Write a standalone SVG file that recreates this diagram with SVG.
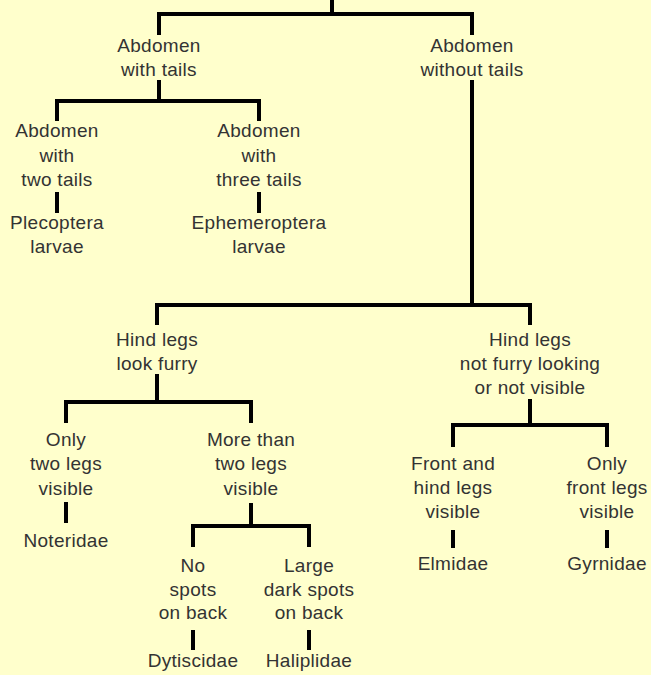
<svg xmlns="http://www.w3.org/2000/svg" width="651" height="675" viewBox="0 0 651 675">
<style>
.t{font-family:"Liberation Sans",Arial,sans-serif;font-size:19px;fill:#333;text-anchor:middle;letter-spacing:0.3px}
.c{stroke:#000;stroke-width:4;fill:none;stroke-linecap:butt;stroke-linejoin:miter}
</style>
<rect width="651" height="675" fill="#FFFFCC"/>
<g id="connectors" class="c">
<path d="M332,0V14"/>
<path d="M159,35V14H472V35"/>
<path d="M159,80V101"/>
<path d="M57,121V101H259V121"/>
<path d="M57,192V213"/>
<path d="M259,192V213"/>
<path d="M472,80V305"/>
<path d="M157,325V305H530V325"/>
<path d="M157,374V402"/>
<path d="M66,423V402H251V423"/>
<path d="M66,502V523"/>
<path d="M251,503V526"/>
<path d="M193,547V526H309V547"/>
<path d="M193,630V650"/>
<path d="M309,630V650"/>
<path d="M530,399V425"/>
<path d="M453,447V425H607V447"/>
<path d="M453,530V548"/>
<path d="M607,530V548"/>
</g>
<g id="n1"><text class="t" x="159" y="52">Abdomen</text><text class="t" x="159" y="76">with tails</text></g>
<g id="n2"><text class="t" x="472" y="52">Abdomen</text><text class="t" x="472" y="76">without tails</text></g>
<g id="n3"><text class="t" x="57" y="137">Abdomen</text><text class="t" x="57" y="162">with</text><text class="t" x="57" y="186">two tails</text></g>
<g id="n4"><text class="t" x="259" y="137">Abdomen</text><text class="t" x="259" y="162">with</text><text class="t" x="259" y="186">three tails</text></g>
<g id="n5"><text class="t" x="57" y="229">Plecoptera</text><text class="t" x="57" y="253">larvae</text></g>
<g id="n6"><text class="t" x="259" y="229">Ephemeroptera</text><text class="t" x="259" y="253">larvae</text></g>
<g id="n7"><text class="t" x="157" y="346">Hind legs</text><text class="t" x="157" y="370">look furry</text></g>
<g id="n8"><text class="t" x="530" y="346">Hind legs</text><text class="t" x="530" y="370">not furry looking</text><text class="t" x="530" y="394">or not visible</text></g>
<g id="n9"><text class="t" x="66" y="446">Only</text><text class="t" x="66" y="470">two legs</text><text class="t" x="66" y="495">visible</text></g>
<g id="n10"><text class="t" x="251" y="446">More than</text><text class="t" x="251" y="470">two legs</text><text class="t" x="251" y="495">visible</text></g>
<g id="n11"><text class="t" x="66" y="547">Noteridae</text></g>
<g id="n12"><text class="t" x="193" y="572">No</text><text class="t" x="193" y="596">spots</text><text class="t" x="193" y="619">on back</text></g>
<g id="n13"><text class="t" x="309" y="572">Large</text><text class="t" x="309" y="596">dark spots</text><text class="t" x="309" y="619">on back</text></g>
<g id="n14"><text class="t" x="193" y="667">Dytiscidae</text></g>
<g id="n15"><text class="t" x="309" y="667">Haliplidae</text></g>
<g id="n16"><text class="t" x="453" y="470">Front and</text><text class="t" x="453" y="494">hind legs</text><text class="t" x="453" y="518">visible</text></g>
<g id="n17"><text class="t" x="607" y="470">Only</text><text class="t" x="607" y="494">front legs</text><text class="t" x="607" y="518">visible</text></g>
<g id="n18"><text class="t" x="453" y="570">Elmidae</text></g>
<g id="n19"><text class="t" x="607" y="570">Gyrnidae</text></g>
</svg>
